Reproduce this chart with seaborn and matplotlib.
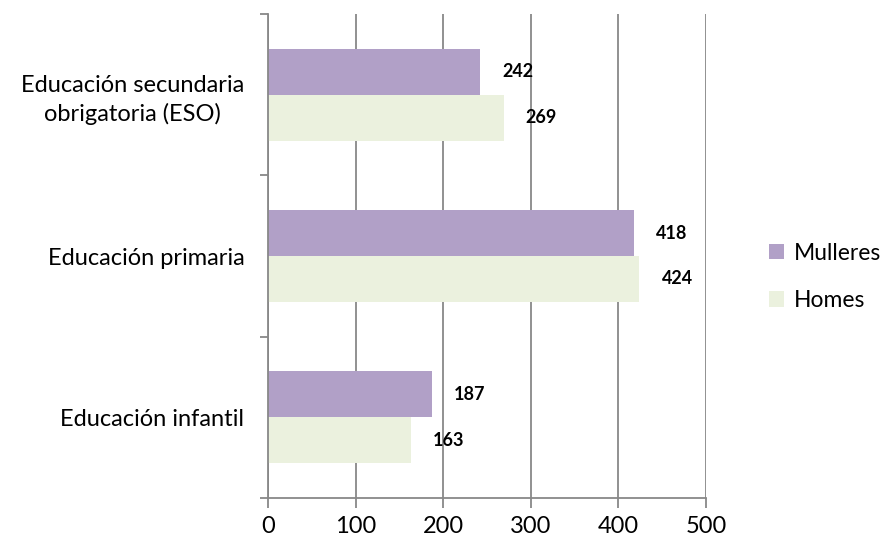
import matplotlib
matplotlib.use("Agg")
import matplotlib.pyplot as plt
import seaborn as sns
import pandas as pd
from matplotlib.patches import Patch

categories = ["Educación secundaria\nobrigatoria (ESO)", "Educación primaria", "Educación infantil"]
series_names = ["Mulleres", "Homes"]
mulleres = [242, 418, 187]
homes = [269, 424, 163]
x_ticks = [0, 100, 200, 300, 400, 500]
colors = ["#B1A0C7", "#EBF1DE"]

rows = []
for c, m, h in zip(categories, mulleres, homes):
    rows.append({"cat": c, "serie": "Mulleres", "val": m})
    rows.append({"cat": c, "serie": "Homes", "val": h})
df = pd.DataFrame(rows)

sns.set_theme(style="white")
plt.rcParams["font.family"] = ["Lato", "DejaVu Sans"]

fig = plt.figure(figsize=(8.88, 5.45), dpi=100)
ax = fig.add_axes([268/888, 1-498/545, (706-268)/888, (498-14)/545])

sns.barplot(data=df, y="cat", x="val", hue="serie", order=categories,
            hue_order=series_names, palette=colors, orient="h",
            width=0.57, gap=0, saturation=1, legend=False, ax=ax, linewidth=0)

ax.set_xlim(0, 500)
ax.set_ylim(2.5, -0.5)
ax.set_xticks(x_ticks)
ax.set_xticklabels([str(t) for t in x_ticks], fontsize=17, color="black")
ax.xaxis.grid(True, color="#888888", linewidth=1.3)
ax.set_axisbelow(True)
ax.set_xlabel("")
ax.set_ylabel("")
for s in ["top", "right"]:
    ax.spines[s].set_visible(False)
for s in ["left", "bottom"]:
    ax.spines[s].set_color("#888888")
    ax.spines[s].set_linewidth(1.3)
ax.tick_params(axis="x", direction="out", length=7, color="#888888", width=1.3, pad=6, bottom=True)
ax.tick_params(axis="y", which="major", length=0, labelsize=17, pad=17, labelcolor="black")
ax.set_yticks([-0.5, 0.5, 1.5, 2.5], minor=True)
ax.tick_params(axis="y", which="minor", direction="out", length=6, color="#888888", width=1.3, left=True)
for lbl in ax.get_yticklabels():
    lbl.set_horizontalalignment("right")
    lbl.set_multialignment("center")
    lbl.set_linespacing(1.35)

for cont in ax.containers:
    ax.bar_label(cont, labels=[f"{int(v)}" for v in cont.datavalues], padding=16,
                 fontsize=13, fontweight="bold", color="black")

handles = [Patch(facecolor=c, edgecolor="none", label=n) for c, n in zip(colors, series_names)]
fig.legend(handles=handles, loc="center left", bbox_to_anchor=(769/888, 1-277/545),
           frameon=False, fontsize=16.5, handlelength=0.65, handleheight=0.65,
           handletextpad=0.45, labelspacing=1.15, labelcolor="black",
           borderpad=0, borderaxespad=0)

fig.savefig("out.png", dpi=100)
